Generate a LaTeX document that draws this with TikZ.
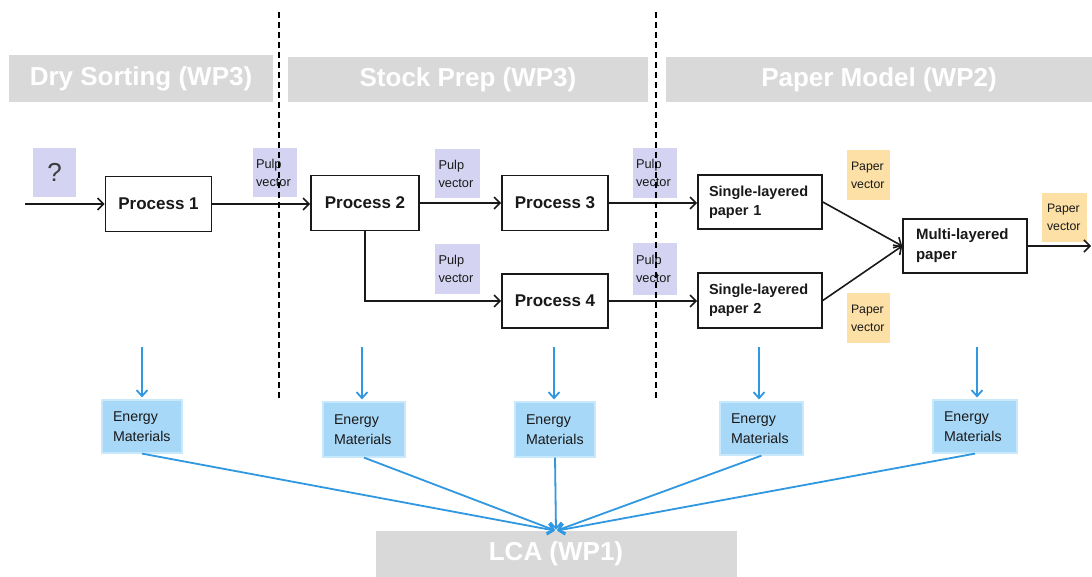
\documentclass[tikz,border=0pt]{standalone}
\usepackage{fontspec}
\setmainfont{Liberation Sans}
\usetikzlibrary{arrows.meta}
\definecolor{hdrgray}{RGB}{217,217,217}
\definecolor{pulpc}{RGB}{212,212,242}
\definecolor{paperc}{RGB}{252,224,166}
\definecolor{energyc}{RGB}{168,216,248}
\definecolor{energyb}{RGB}{200,232,252}
\definecolor{bluec}{RGB}{48,152,224}
\definecolor{txt}{RGB}{25,25,25}
\begin{document}
\begin{tikzpicture}[x=1pt,y=-1pt,
  nohy/.style={execute at begin node={\hyphenpenalty=10000\exhyphenpenalty=10000}},
  hdr/.style={fill=hdrgray, text=white, font=\fontsize{26}{30}\selectfont\bfseries, inner sep=0pt},
  proc/.style={draw=txt, line width=1.6pt, fill=white, inner sep=0pt, font=\fontsize{17}{20}\selectfont\bfseries, text=txt},
  lproc/.style={draw=txt, line width=1.6pt, fill=white, inner ysep=0pt, align=left, text=txt, nohy},
  pulp/.style={fill=pulpc, inner ysep=0pt, inner xsep=3pt, text width=38pt, minimum height=49pt, align=left, font=\fontsize{12.8}{18}\selectfont, text=txt, nohy},
  paperv/.style={fill=paperc, inner ysep=0pt, inner xsep=4pt, text width=35pt, minimum height=50pt, align=left, font=\fontsize{12.3}{18}\selectfont, text=txt, nohy},
  energy/.style={fill=energyc, draw=energyb, line width=1.2pt, inner ysep=0pt, inner xsep=11pt, align=left, font=\fontsize{14.2}{19.5}\selectfont, text=txt, nohy},
  arr/.style={draw=txt, line width=1.6pt, -{Straight Barb[length=6pt,width=12pt]}},
  barr/.style={draw=bluec, line width=1.8pt, -{Straight Barb[length=6pt,width=11pt]}},
  sep/.style={draw=black, line width=1.4pt, dash pattern=on 6pt off 4pt}]
\useasboundingbox[fill=white] (0,0) rectangle (1092,577);

% header bars
\node[hdr, minimum width=264pt, minimum height=47pt] (h1) at (141,78.5) {Dry Sorting (WP3)};
\node[hdr, minimum width=360pt, minimum height=45pt] (h2) at (468,79.5) {Stock Prep (WP3)};
\node[hdr, minimum width=426pt, minimum height=45pt] (h3) at (879,79.5) {Paper Model (WP2)};
\node[hdr, minimum width=361pt, minimum height=46pt] (lca) at (556,554) {LCA (WP1)};

% question mark
\node[fill=pulpc, minimum width=43pt, minimum height=49pt, inner sep=0pt, font=\fontsize{26}{30}\selectfont, text=txt!85] (q) at (54.5,172.5) {?};

% processes
\node[proc, minimum width=106pt, minimum height=55pt] (P1) at (158.5,204) {Process 1};
\node[proc, minimum width=108pt, minimum height=55pt] (P2) at (365,203) {Process 2};
\node[proc, minimum width=106pt, minimum height=55pt] (P3) at (555,203) {Process 3};
\node[proc, minimum width=106pt, minimum height=54pt] (P4) at (555,301) {Process 4};

\node[lproc, inner xsep=11pt, text width=102pt, minimum height=54pt, font=\fontsize{14.5}{19}\selectfont\bfseries] (SL1) at (760,202) {Single-layered\\paper 1};
\node[lproc, inner xsep=11pt, text width=102pt, minimum height=55pt, font=\fontsize{14.5}{19}\selectfont\bfseries] (SL2) at (760,300.5) {Single-layered\\paper 2};
\node[lproc, inner xsep=13pt, text width=98pt, minimum height=54pt, font=\fontsize{15}{20}\selectfont\bfseries] (ML) at (965,246) {Multi-layered\\paper};

% vectors
\node[pulp] (pv1) at (275,173) {Pulp\\vector};
\node[pulp, inner xsep=3.5pt] (pv2) at (457.5,173.5) {Pulp\\vector};
\node[pulp, inner xsep=3.5pt, minimum height=50pt] (pv3) at (457.5,269) {Pulp\\vector};
\node[pulp, minimum height=50pt] (pv4) at (655,173) {Pulp\\vector};
\node[pulp, minimum height=52pt] (pv5) at (655,269) {Pulp\\vector};
\node[paperv] (ppv1) at (868.5,175) {Paper\\vector};
\node[paperv] (ppv2) at (868.5,318) {Paper\\vector};
\node[paperv, inner xsep=5pt, minimum height=49pt] (ppv3) at (1064.5,217.5) {Paper\\vector};

% energy boxes
\node[energy, text width=58pt, minimum height=53pt] (E1) at (142,426.5) {Energy\\Materials};
\node[energy, text width=60pt, minimum height=55pt] (E2) at (364,429.5) {Energy\\Materials};
\node[energy, text width=58pt, minimum height=55pt] (E3) at (555,429.5) {Energy\\Materials};
\node[energy, text width=61pt, minimum height=53pt] (E4) at (761.5,428.5) {Energy\\Materials};
\node[energy, text width=62pt, minimum height=53pt] (E5) at (975,426.5) {Energy\\Materials};

% free ends
\coordinate (in) at (25,204);
\coordinate (out) at (1091,246);
\coordinate (t1) at (142,347);
\coordinate (t2) at (362,347);
\coordinate (t3) at (554,347);
\coordinate (t4) at (759,347);
\coordinate (t5) at (977,347);

% flow connectors
\draw[arr] (in) -- (P1.west);
\draw[arr] (P1.east) -- (P2.west |- P1.east);
\draw[arr] (P2.east) -- (P3.west);
\draw[arr] (P2.south) |- (P4.west);
\draw[arr] (P3.east) -- (SL1.west |- P3.east);
\draw[arr] (P4.east) -- (SL2.west |- P4.east);
\draw[arr] (SL1.east) -- (ML.west);
\draw[arr] (SL2.east) -- (ML.west);
\draw[arr] (ML.east) -- (out);

% blue connectors
\foreach \i in {1,...,5}{
  \draw[barr, shorten >=2pt] (t\i) -- (t\i |- E\i.north);
  \draw[barr, shorten >=1pt] (E\i.south) -- (lca.north);
}

% separators
\draw[sep] (279,12) -- (279,398);
\draw[sep] (656,12) -- (656,400);
\end{tikzpicture}
\end{document}
